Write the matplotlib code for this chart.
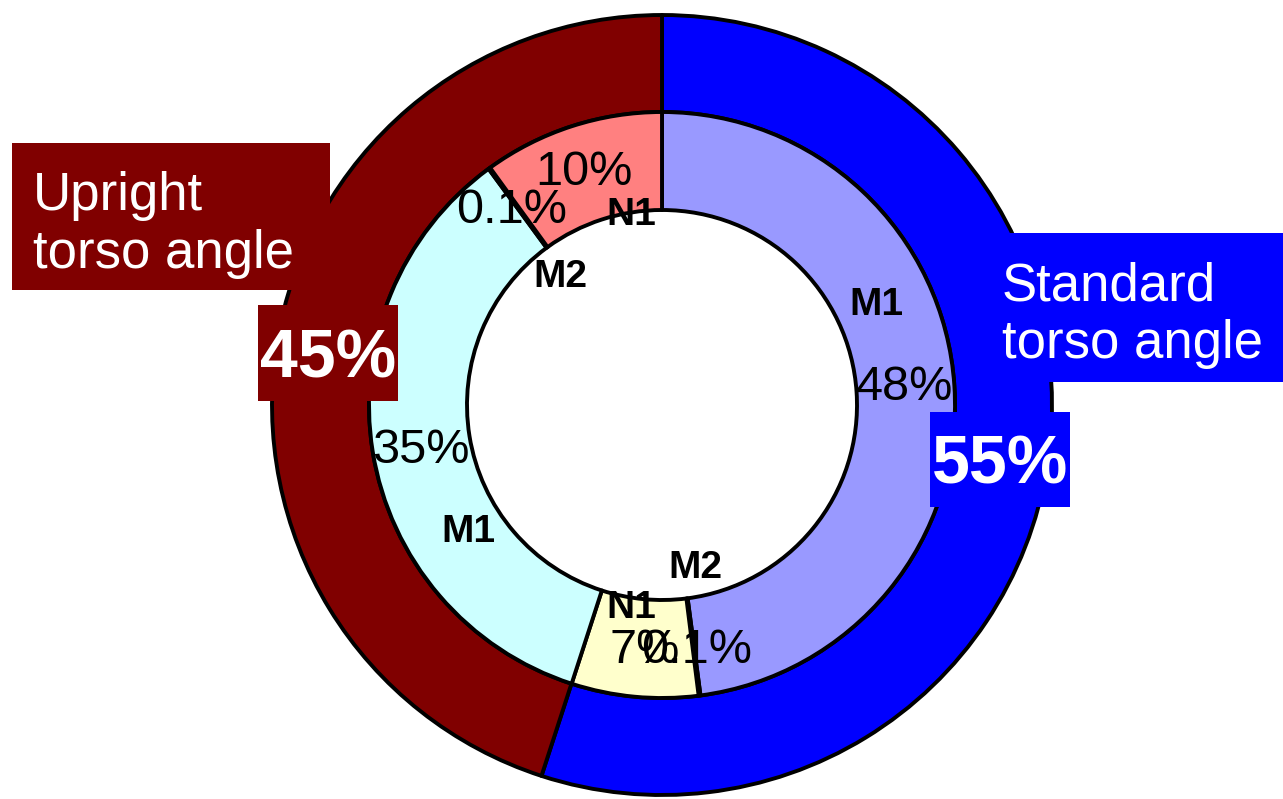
import matplotlib.pyplot as plt
from matplotlib.patches import Rectangle

plt.rcParams["font.family"] = ["Liberation Sans", "DejaVu Sans"]

W, H = 1283, 799

# 外側リング: 姿勢
posture_labels = ["Standard\ntorso angle", "Upright\ntorso angle"]
posture_share = [55, 45]
posture_pct_text = ["55%", "45%"]
posture_colors = ["#0000FF", "#800000"]

# 内側リング: 分類
class_labels = ["M1", "M2", "N1", "M1", "M2", "N1"]
class_share = [48, 0.1, 7, 35, 0.1, 10]
class_pct_text = ["48%", "0.1%", "7%", "35%", "0.1%", "10%"]
class_colors = ["#9999FF", "#660066", "#FFFFCC", "#CCFFFF", "#660066", "#FF8080"]

# ===== レイアウト (画像ピクセル座標, y は上から) =====
CENTER = (662, 405)
R_OUTER, R_MID, R_HOLE = 390, 293, 195
EDGE_LW = 2.8

PCT_POS = [(905, 400), (697, 663), (645, 663), (421, 463), (512, 223), (584, 185)]
CLASS_POS = [(876, 315), (695, 578), (631, 618), (468, 542), (560, 287), (631, 225)]

# (x0, y0, x1, y1) of label boxes, text anchor (x, last baseline)
POSTURE_BOX = [(990, 233, 1283, 382), (12, 143, 330, 290)]
POSTURE_TXT = [(1002, 358), (33, 268)]
TOTAL_BOX = [(930, 412, 1070, 507), (258, 305, 398, 401)]
TOTAL_TXT = [(1000, 483), (328, 378)]


def flip(y):
    return H - y


def main():
    fig = plt.figure(figsize=(W / 100, H / 100), dpi=100)
    ax = fig.add_axes([0, 0, 1, 1])
    center = (CENTER[0], flip(CENTER[1]))

    wedge_kw = dict(edgecolor="black", linewidth=EDGE_LW, joinstyle="round")
    ax.pie(posture_share, colors=posture_colors, radius=R_OUTER, center=center,
           startangle=90, counterclock=False,
           wedgeprops=dict(width=R_OUTER - R_MID, **wedge_kw))
    ax.pie(class_share, colors=class_colors, radius=R_MID, center=center,
           startangle=90, counterclock=False,
           wedgeprops=dict(width=R_MID - R_HOLE, **wedge_kw))

    ax.set_xlim(0, W)
    ax.set_ylim(0, H)
    ax.set_aspect("equal")
    ax.axis("off")

    # 内側ラベル
    for txt, (x, y) in zip(class_pct_text, PCT_POS):
        ax.text(x, flip(y), txt, fontsize=35, ha="center", va="baseline", zorder=5)
    for txt, (x, y) in zip(class_labels, CLASS_POS):
        ax.text(x, flip(y), txt, fontsize=28, fontweight="bold", ha="center",
                va="baseline", zorder=5)

    # 姿勢ラベルの箱
    for i, (label, pct) in enumerate(zip(posture_labels, posture_pct_text)):
        x0, y0, x1, y1 = POSTURE_BOX[i]
        ax.add_patch(Rectangle((x0, flip(y1)), x1 - x0, y1 - y0,
                               facecolor=posture_colors[i], edgecolor="none", zorder=6))
        tx, ty = POSTURE_TXT[i]
        ax.text(tx, flip(ty), label, fontsize=38, color="white", ha="left",
                va="baseline", linespacing=1.2, zorder=7)

        x0, y0, x1, y1 = TOTAL_BOX[i]
        ax.add_patch(Rectangle((x0, flip(y1)), x1 - x0, y1 - y0,
                               facecolor=posture_colors[i], edgecolor="none", zorder=6))
        tx, ty = TOTAL_TXT[i]
        ax.text(tx, flip(ty), pct, fontsize=49, fontweight="bold", color="white",
                ha="center", va="baseline", zorder=7)

    fig.savefig("out.png", dpi=100)
    plt.close(fig)


if __name__ == "__main__":
    main()
